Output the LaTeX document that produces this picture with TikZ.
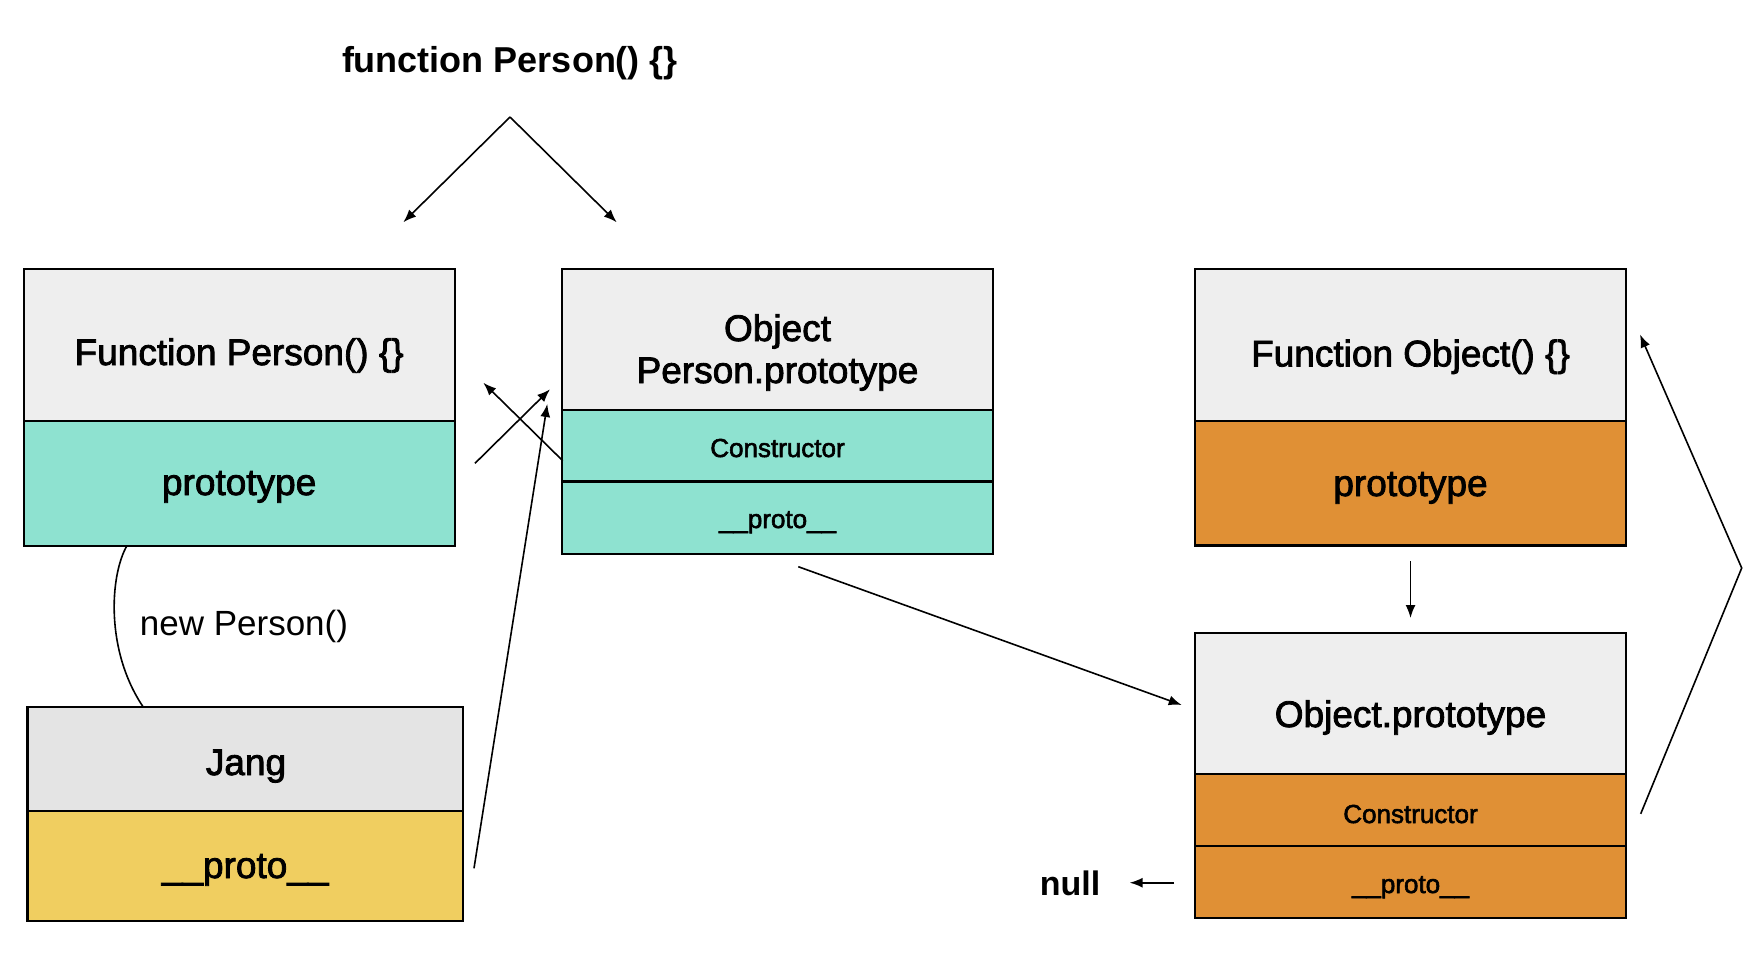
\documentclass[tikz,border=0pt]{standalone}
\usepackage{fontspec}
\setmainfont{Liberation Sans}
\newfontfamily\medfont[FakeBold=2.2]{Liberation Sans}
\usetikzlibrary{arrows.meta}
\definecolor{hdrgray}{HTML}{EEEEEE}
\definecolor{janggray}{HTML}{E4E4E4}
\definecolor{tealbox}{HTML}{8EE2D0}
\definecolor{orangebox}{HTML}{E09035}
\definecolor{yellowbox}{HTML}{F0CE60}
\tikzset{
  boxpart/.style={draw, line width=2.2pt, inner sep=0pt, outer sep=0pt, minimum width=431pt},
  bigtxt/.style={anchor=base, inner sep=0pt, font=\medfont\fontsize{37pt}{44pt}\selectfont},
  smalltxt/.style={anchor=base, inner sep=0pt, font=\medfont\fontsize{26pt}{31pt}\selectfont},
  boldtxt/.style={anchor=base, inner sep=0pt, font=\bfseries\fontsize{36pt}{43pt}\selectfont},
  plaintxt/.style={anchor=base, inner sep=0pt, font=\fontsize{35pt}{42pt}\selectfont},
  arr/.style={line width=1.6pt, -{Latex[length=13pt,width=10pt]}},
  plainline/.style={line width=1.6pt}
}
\begin{document}
\begin{tikzpicture}[x=1pt,y=-1pt]
\useasboundingbox (0,0) rectangle (1760,958);

% Function Person() {}
\node[boxpart, fill=hdrgray, minimum height=152.1pt] (fph) at (239.15,344.65) {};
\node[boxpart, fill=tealbox, minimum height=124.9pt] (fpp) at (239.15,483.15) {};
% Object Person.prototype
\node[boxpart, fill=hdrgray, minimum height=141pt] (oph) at (777.5,339.1) {};
\node[boxpart, fill=tealbox, minimum height=71.8pt] (opc) at (777.5,445.5) {};
\node[boxpart, fill=tealbox, minimum height=72.2pt] (opp) at (777.5,517.5) {};
% Function Object() {}
\node[boxpart, fill=hdrgray, minimum height=152pt] (foh) at (1410.5,344.8) {};
\node[boxpart, fill=orangebox, minimum height=124.9pt] (fop) at (1410.5,483.1) {};
% Object.prototype
\node[boxpart, fill=hdrgray, minimum height=141.3pt] (obh) at (1410.5,703.35) {};
\node[boxpart, fill=orangebox, minimum height=71.7pt] (obc) at (1410.5,809.85) {};
\node[boxpart, fill=orangebox, minimum height=72.3pt] (obp) at (1410.5,881.85) {};
% Jang
\node[boxpart, fill=janggray, minimum width=435.6pt, minimum height=104pt] (jh) at (245.2,758.7) {};
\node[boxpart, fill=yellowbox, minimum width=435.6pt, minimum height=110pt] (jp) at (245.2,865.7) {};

% texts
\node[boldtxt] (title) at (510,72.3) {function Person() \{\}};
\node[bigtxt] (tfph) at (239.15,365) {Function Person() \{\}};
\node[bigtxt] (tfpp) at (239.15,495) {prototype};
\node[bigtxt] (toph1) at (777.5,341) {Object};
\node[bigtxt] (toph2) at (777.5,383) {Person.prototype};
\node[smalltxt] (topc) at (777.5,457) {Constructor};
\node[smalltxt] (topp) at (777.5,528) {\_\_proto\_\_};
\node[bigtxt] (tfoh) at (1410.5,366.4) {Function Object() \{\}};
\node[bigtxt] (tfop) at (1410.5,496) {prototype};
\node[bigtxt] (tobh) at (1410.5,727) {Object.prototype};
\node[smalltxt] (tobc) at (1410.5,823) {Constructor};
\node[smalltxt] (tobp) at (1410.5,893) {\_\_proto\_\_};
\node[bigtxt] (tjh) at (246,775) {Jang};
\node[bigtxt] (tjp) at (245.2,878) {\_\_proto\_\_};
\node[plaintxt] (tnew) at (244,635) {new Person()};
\node[boldtxt, font=\bfseries\fontsize{34pt}{41pt}\selectfont] (tnull) at (1070,895) {null};

% coordinates for free ends
\coordinate (apex) at (510,117);
\coordinate (apexl) at (403.3,222.3);
\coordinate (apexr) at (616.7,222.3);
\coordinate (aS) at (475,463.3);
\coordinate (aE) at (550,389.3);
\coordinate (bS) at (562.7,460.7);
\coordinate (bE) at (483.3,382.7);
\coordinate (cS) at (474,868.3);
\coordinate (cE) at (547.3,404);
\coordinate (dS) at (798.3,566.7);
\coordinate (dE) at (1181.7,705);
\coordinate (eS) at (1410.5,561);
\coordinate (eE) at (1410.5,618);
\coordinate (fS) at (1640.7,813.8);
\coordinate (fM) at (1741.7,568);
\coordinate (fE) at (1640,334.5);
\coordinate (nS) at (1174,882.7);
\coordinate (nE) at (1129.6,882.7);
\coordinate (curS) at (127,545.6);
\coordinate (curE) at (143,706.7);

% connectors
\draw[arr] (apex) -- (apexl);
\draw[arr] (apex) -- (apexr);
\draw[arr] (aS) -- (aE);
\draw[arr] (bS) -- (bE);
\draw[arr] (cS) -- (cE);
\draw[arr] (dS) -- (dE);
\draw[arr] (eS) -- (eE);
\draw[arr] (fS) -- (fM) -- (fE);
\draw[arr] (nS) -- (nE);
\draw[plainline] (curS) .. controls (110,575) and (105,650) .. (curE);
\end{tikzpicture}
\end{document}
